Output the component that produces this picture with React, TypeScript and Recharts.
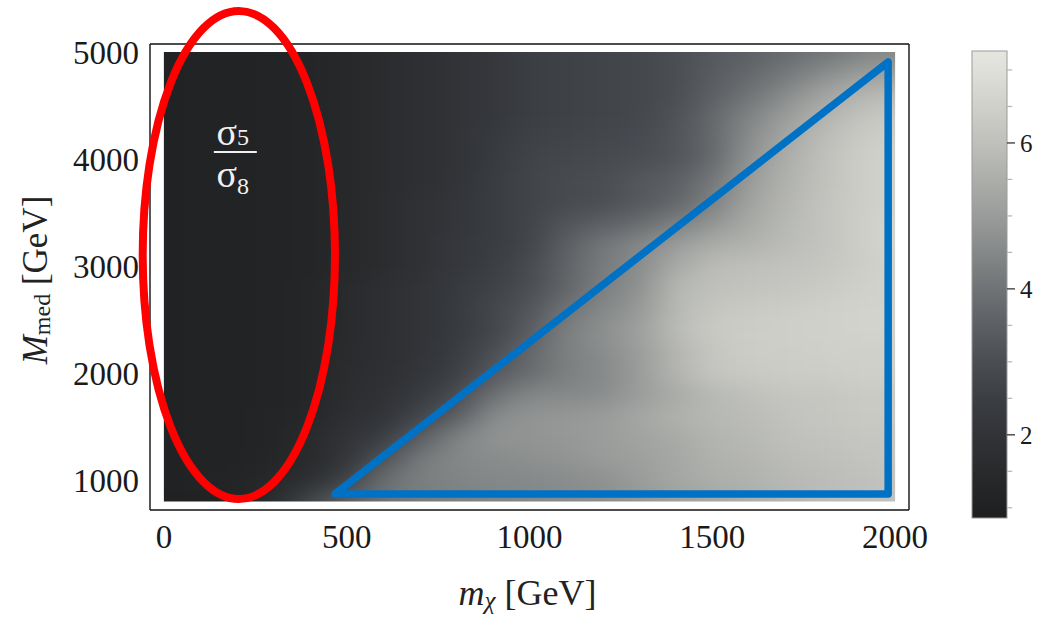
import React from 'react';
import { ComposedChart, XAxis, YAxis, ReferenceArea, ReferenceDot, ReferenceLine, Label } from 'recharts';

// ---------- data ----------
const mChiGeV = [0, 100, 200, 300, 400, 500, 600, 700, 800, 900, 1000, 1100, 1200, 1300, 1400, 1500, 1600, 1700, 1800, 1900, 2000];
const mMedGeV = [5000, 4800, 4600, 4400, 4200, 4000, 3800, 3600, 3400, 3200, 3000, 2800, 2600, 2400, 2200, 2000, 1800, 1600, 1400, 1200, 1000, 800];

// sigma5 / sigma8 ratio, one row per M_med value (top to bottom), one column per m_chi value
const ratioRows = [
  [1.05, 1.1, 1.1, 1.15, 1.2, 1.4, 1.6, 1.8, 2.0, 2.2, 2.5, 2.6, 2.7, 2.8, 3.0, 3.3, 3.5, 3.8, 4.0, 4.3, 4.5],
  [1.05, 1.1, 1.1, 1.15, 1.2, 1.4, 1.6, 1.8, 2.0, 2.2, 2.5, 2.6, 2.7, 2.8, 3.0, 3.4, 3.7, 4.1, 4.6, 5.0, 5.2],
  [1.05, 1.1, 1.1, 1.15, 1.2, 1.4, 1.6, 1.8, 2.0, 2.2, 2.5, 2.6, 2.7, 2.8, 3.0, 3.5, 4.0, 4.6, 5.2, 5.7, 5.9],
  [1.05, 1.1, 1.1, 1.15, 1.2, 1.4, 1.6, 1.8, 2.0, 2.2, 2.5, 2.6, 2.7, 2.8, 3.1, 3.7, 4.4, 5.0, 5.6, 6.1, 6.3],
  [1.05, 1.1, 1.1, 1.15, 1.2, 1.4, 1.6, 1.8, 2.0, 2.3, 2.6, 2.7, 2.8, 2.9, 3.2, 3.7, 4.6, 5.3, 5.9, 6.3, 6.5],
  [1.05, 1.1, 1.1, 1.15, 1.2, 1.4, 1.6, 1.8, 2.0, 2.3, 2.7, 2.8, 2.9, 3.0, 3.2, 3.7, 4.8, 5.5, 6.0, 6.4, 6.6],
  [1.05, 1.1, 1.1, 1.15, 1.2, 1.4, 1.6, 1.8, 2.0, 2.4, 2.7, 2.9, 3.0, 3.3, 3.5, 4.1, 5.0, 5.6, 6.0, 6.4, 6.6],
  [1.05, 1.1, 1.1, 1.15, 1.2, 1.4, 1.6, 1.9, 2.1, 2.4, 2.7, 2.9, 3.0, 3.3, 3.6, 4.3, 5.2, 5.7, 6.1, 6.4, 6.6],
  [1.05, 1.1, 1.1, 1.15, 1.2, 1.4, 1.6, 1.9, 2.1, 2.4, 2.7, 3.2, 3.5, 3.8, 4.3, 4.8, 5.4, 5.8, 6.1, 6.4, 6.7],
  [1.05, 1.1, 1.1, 1.15, 1.2, 1.4, 1.6, 1.9, 2.2, 2.4, 2.7, 3.5, 4.1, 4.5, 5.0, 5.5, 5.6, 5.9, 6.1, 6.4, 6.7],
  [1.05, 1.1, 1.1, 1.15, 1.2, 1.4, 1.6, 1.9, 2.2, 2.5, 2.9, 3.6, 4.2, 4.6, 5.4, 5.9, 6.0, 6.1, 6.2, 6.4, 6.6],
  [1.05, 1.1, 1.1, 1.15, 1.25, 1.5, 1.8, 2.0, 2.3, 2.6, 3.0, 3.6, 4.3, 4.7, 5.8, 6.0, 6.1, 6.2, 6.3, 6.5, 6.6],
  [1.05, 1.1, 1.1, 1.15, 1.25, 1.5, 1.8, 2.0, 2.3, 2.8, 3.2, 4.0, 4.5, 4.9, 5.8, 6.2, 6.3, 6.4, 6.5, 6.6, 6.6],
  [1.05, 1.1, 1.1, 1.15, 1.25, 1.5, 1.8, 2.0, 2.3, 2.7, 3.4, 4.3, 4.7, 5.1, 5.9, 6.3, 6.4, 6.5, 6.5, 6.6, 6.6],
  [1.05, 1.1, 1.1, 1.15, 1.25, 1.55, 1.8, 2.0, 2.4, 3.0, 3.7, 4.3, 4.6, 5.0, 5.7, 6.2, 6.4, 6.4, 6.5, 6.5, 6.5],
  [1.05, 1.1, 1.1, 1.15, 1.3, 1.6, 1.8, 2.1, 2.5, 3.3, 3.8, 4.3, 4.5, 5.0, 5.7, 6.2, 6.3, 6.4, 6.4, 6.5, 6.5],
  [1.05, 1.1, 1.1, 1.15, 1.3, 1.65, 1.9, 2.3, 2.9, 3.9, 4.5, 4.5, 4.6, 5.0, 5.4, 5.8, 6.0, 6.2, 6.2, 6.3, 6.3],
  [1.05, 1.1, 1.1, 1.2, 1.35, 1.8, 2.0, 2.7, 3.4, 4.6, 4.8, 4.9, 5.0, 5.3, 5.6, 5.8, 5.9, 6.1, 6.2, 6.3, 6.3],
  [1.05, 1.1, 1.1, 1.2, 1.5, 2.0, 2.4, 3.4, 4.4, 4.8, 4.8, 4.9, 5.0, 5.2, 5.4, 5.7, 5.8, 6.0, 6.1, 6.2, 6.2],
  [1.05, 1.1, 1.1, 1.3, 1.5, 2.1, 3.1, 4.2, 4.5, 4.6, 4.7, 4.8, 5.0, 5.1, 5.3, 5.6, 5.7, 5.9, 6.0, 6.1, 6.2],
  [1.05, 1.1, 1.2, 1.4, 1.7, 2.6, 3.9, 4.3, 4.4, 4.5, 4.5, 4.6, 4.7, 5.0, 5.3, 5.5, 5.6, 5.8, 5.9, 6.0, 6.1],
  [1.0, 1.05, 1.1, 1.6, 2.8, 3.6, 4.0, 4.2, 4.3, 4.4, 4.5, 4.6, 4.7, 4.9, 5.1, 5.3, 5.5, 5.7, 5.9, 6.0, 6.1],
];

const xTickLabels = [0, 500, 1000, 1500, 2000];
const xMinorTicks = [0, 100, 200, 300, 400, 500, 600, 700, 800, 900, 1000, 1100, 1200, 1300, 1400, 1500, 1600, 1700, 1800, 1900, 2000];
const yTickLabels = [1000, 2000, 3000, 4000, 5000];
const yMinorTicks = [800, 1000, 1200, 1400, 1600, 1800, 2000, 2200, 2400, 2600, 2800, 3000, 3200, 3400, 3600, 3800, 4000, 4200, 4400, 4600, 4800, 5000];

const colorbarMajorTicks = [2, 4, 6];
const colorbarMinorTicks = [1, 1.5, 2.5, 3, 3.5, 4.5, 5, 5.5, 6.5, 7];
const colorbarDomain = [0.86, 7.26];

// gray-tones colour map (value -> colour)
const colorLevels = [0.86, 1, 1.5, 2, 2.5, 3, 3.5, 4, 4.5, 5, 5.5, 6, 6.5, 7, 7.26];
const colorHexes = ['#1d1e1f', '#202122', '#282a2c', '#313337', '#3b3e43', '#4a4e53', '#5c6064', '#6f7375', '#858888', '#999c9a', '#acaeaa', '#bfc0bb', '#cfd0ca', '#dfe0da', '#e6e6e1'];

// annotations (data coordinates)
const ellipseBox = { x1: -58, x2: 468, y1: 823, y2: 5383 };
const triangleBox = { x1: 468, x2: 1981, y1: 869, y2: 4907 };
const ratioLabelAt = { x: 194, y: 4065 };

const xDomain = [-38, 2038];
const yDomain = [720, 5075];

// ---------- helpers ----------
const FONT = '"Liberation Serif", "Times New Roman", serif';

function hexToRgb(h: string) {
  const n = parseInt(h.slice(1), 16);
  return [(n >> 16) & 255, (n >> 8) & 255, n & 255];
}

function colorFor(v: number) {
  const lv = colorLevels;
  if (v <= lv[0]) return colorHexes[0];
  if (v >= lv[lv.length - 1]) return colorHexes[colorHexes.length - 1];
  let i = 0;
  while (i < lv.length - 2 && v > lv[i + 1]) i++;
  const t = (v - lv[i]) / (lv[i + 1] - lv[i]);
  const a = hexToRgb(colorHexes[i]);
  const b = hexToRgb(colorHexes[i + 1]);
  const c = a.map((av, k) => Math.round(av + (b[k] - av) * t));
  return `rgb(${c[0]},${c[1]},${c[2]})`;
}

const HeatmapShape = (props: any) => {
  const { x, y, width, height } = props;
  const nx = mChiGeV.length;
  const ny = mMedGeV.length;
  const x0 = mChiGeV[0];
  const x1 = mChiGeV[nx - 1];
  const yTop = mMedGeV[0];
  const yBot = mMedGeV[ny - 1];
  const px = (i: number) => x + ((mChiGeV[i] - x0) / (x1 - x0)) * width;
  const py = (j: number) => y + ((yTop - mMedGeV[j]) / (yTop - yBot)) * height;
  const pad = 60;
  const rects: any[] = [];
  for (let j = 0; j < ny; j++) {
    const top = j === 0 ? y - pad : (py(j - 1) + py(j)) / 2;
    const bottom = j === ny - 1 ? y + height + pad : (py(j) + py(j + 1)) / 2;
    for (let i = 0; i < nx; i++) {
      const left = i === 0 ? x - pad : (px(i - 1) + px(i)) / 2;
      const right = i === nx - 1 ? x + width + pad : (px(i) + px(i + 1)) / 2;
      rects.push(
        <rect
          key={`${i}-${j}`}
          x={left}
          y={top}
          width={right - left + 0.6}
          height={bottom - top + 0.6}
          fill={colorFor(ratioRows[j][i])}
        />
      );
    }
  }
  return (
    <g>
      <defs>
        <clipPath id="heatClip">
          <rect x={x} y={y} width={width} height={height} />
        </clipPath>
        <filter id="heatBlur" x="-5%" y="-5%" width="110%" height="110%" colorInterpolationFilters="sRGB">
          <feGaussianBlur stdDeviation="17 10" />
        </filter>
      </defs>
      <g clipPath="url(#heatClip)">
        <g filter="url(#heatBlur)">{rects}</g>
      </g>
    </g>
  );
};

const TriangleShape = (props: any) => {
  const { x, y, width, height } = props;
  return (
    <polygon
      points={`${x},${y + height} ${x + width},${y} ${x + width},${y + height}`}
      fill="none"
      stroke="#0072c6"
      strokeWidth={7.5}
      strokeLinejoin="round"
    />
  );
};

const EllipseShape = (props: any) => {
  const { x, y, width, height } = props;
  return (
    <ellipse
      cx={x + width / 2}
      cy={y + height / 2}
      rx={width / 2}
      ry={height / 2}
      fill="none"
      stroke="#ff0000"
      strokeWidth={8}
    />
  );
};

const RatioLabel = (props: any) => {
  const { cx, cy } = props;
  const c = '#f0f0f0';
  return (
    <g fontFamily={FONT} fill={c}>
      <text x={cx - 2} y={cy - 7} textAnchor="middle" fontSize={38}>
        σ<tspan fontSize={24}>5</tspan>
      </text>
      <line x1={cx - 21} x2={cx + 22} y1={cy} y2={cy} stroke={c} strokeWidth={2} />
      <text x={cx - 2} y={cy + 35} textAnchor="middle" fontSize={38}>
        σ<tspan fontSize={24} dy={7}>8</tspan>
      </text>
    </g>
  );
};

const XAxisTitle = (props: any) => {
  const vb = props.viewBox || { x: 150, y: 510, width: 759, height: 110 };
  return (
    <text x={vb.x + vb.width / 2 - 2} y={vb.y + 95} textAnchor="middle" fontFamily={FONT} fontSize={36} fill="#222">
      <tspan fontStyle="italic">m</tspan>
      <tspan fontStyle="italic" fontSize={25} dy={4}>χ</tspan>
      <tspan dy={-4}> [GeV]</tspan>
    </text>
  );
};

const YAxisTitle = (props: any) => {
  const vb = props.viewBox || { x: 0, y: 44, width: 150, height: 466 };
  const tx = vb.x + 47;
  const ty = vb.y + vb.height / 2 + 3;
  return (
    <text x={tx} y={ty} transform={`rotate(-90 ${tx} ${ty})`} textAnchor="middle" fontFamily={FONT} fontSize={35} fill="#222">
      <tspan fontStyle="italic">M</tspan>
      <tspan fontSize={24} dy={3}>med</tspan>
      <tspan dy={-3}> [GeV]</tspan>
    </text>
  );
};

const ColorbarShape = (props: any) => {
  const { x, y, width, height } = props;
  const [lo, hi] = colorbarDomain;
  return (
    <g>
      <defs>
        <linearGradient id="cbGrad" x1="0" y1="1" x2="0" y2="0">
          {colorLevels.map((lv, i) => (
            <stop key={i} offset={`${((lv - lo) / (hi - lo)) * 100}%`} stopColor={colorHexes[i]} />
          ))}
        </linearGradient>
      </defs>
      <rect x={x} y={y} width={width} height={height} fill="url(#cbGrad)" stroke="#9a9a9a" strokeWidth={1} />
    </g>
  );
};

const tickFont = { fontFamily: FONT, fontSize: 33, fill: '#1a1a1a' };
const frameStroke = { stroke: '#111', strokeWidth: 1.4 };
const tickStroke = { stroke: '#111', strokeWidth: 1.3 };
const MAJ = 10;
const MIN = 6;

export default function App() {
  return (
    <div style={{ position: 'absolute', left: 0, top: 0, width: 1049, height: 620, background: '#fff' }}>
      <div style={{ position: 'absolute', left: 0, top: 0 }}>
        <ComposedChart width={1049} height={620} margin={{ top: 44, right: 140, bottom: 0, left: 0 }}>
          <XAxis
            type="number"
            dataKey="x"
            domain={xDomain}
            allowDataOverflow
            ticks={xTickLabels}
            tickLine={false}
            tickSize={0}
            tickMargin={15}
            axisLine={frameStroke}
            tick={tickFont}
            height={110}
            interval={0}
          >
            <Label content={<XAxisTitle />} />
          </XAxis>
          <XAxis xAxisId="bMaj" type="number" domain={xDomain} allowDataOverflow ticks={xTickLabels} mirror tick={false} tickSize={MAJ} axisLine={false} tickLine={tickStroke} interval={0} />
          <XAxis xAxisId="bMin" type="number" domain={xDomain} allowDataOverflow ticks={xMinorTicks} mirror tick={false} tickSize={MIN} axisLine={false} tickLine={tickStroke} interval={0} />
          <XAxis xAxisId="tMaj" orientation="top" type="number" domain={xDomain} allowDataOverflow ticks={xTickLabels} mirror tick={false} tickSize={MAJ} axisLine={frameStroke} tickLine={tickStroke} interval={0} />
          <XAxis xAxisId="tMin" orientation="top" type="number" domain={xDomain} allowDataOverflow ticks={xMinorTicks} mirror tick={false} tickSize={MIN} axisLine={false} tickLine={tickStroke} interval={0} />
          <YAxis
            type="number"
            dataKey="y"
            domain={yDomain}
            allowDataOverflow
            ticks={yTickLabels}
            tickLine={false}
            tickSize={0}
            tickMargin={11}
            axisLine={frameStroke}
            tick={tickFont}
            width={150}
            interval={0}
          >
            <Label content={<YAxisTitle />} />
          </YAxis>
          <YAxis yAxisId="lMaj" type="number" domain={yDomain} allowDataOverflow ticks={yTickLabels} mirror tick={false} tickSize={MAJ} axisLine={false} tickLine={tickStroke} interval={0} />
          <YAxis yAxisId="lMin" type="number" domain={yDomain} allowDataOverflow ticks={yMinorTicks} mirror tick={false} tickSize={MIN} axisLine={false} tickLine={tickStroke} interval={0} />
          <YAxis yAxisId="rMaj" orientation="right" type="number" domain={yDomain} allowDataOverflow ticks={yTickLabels} mirror tick={false} tickSize={MAJ} axisLine={frameStroke} tickLine={tickStroke} interval={0} />
          <YAxis yAxisId="rMin" orientation="right" type="number" domain={yDomain} allowDataOverflow ticks={yMinorTicks} mirror tick={false} tickSize={MIN} axisLine={false} tickLine={tickStroke} interval={0} />

          <ReferenceArea
            x1={mChiGeV[0]}
            x2={mChiGeV[mChiGeV.length - 1]}
            y1={mMedGeV[mMedGeV.length - 1]}
            y2={mMedGeV[0]}
            shape={HeatmapShape}
            ifOverflow="visible"
          />
          <ReferenceArea
            x1={triangleBox.x1}
            x2={triangleBox.x2}
            y1={triangleBox.y1}
            y2={triangleBox.y2}
            shape={TriangleShape}
            ifOverflow="visible"
          />
          <ReferenceDot x={ratioLabelAt.x} y={ratioLabelAt.y} shape={RatioLabel} ifOverflow="visible" />
          <ReferenceArea
            x1={ellipseBox.x1}
            x2={ellipseBox.x2}
            y1={ellipseBox.y1}
            y2={ellipseBox.y2}
            shape={EllipseShape}
            ifOverflow="visible"
            zIndex={2500}
          />
        </ComposedChart>
      </div>
      <div style={{ position: 'absolute', left: 940, top: 0 }}>
        <ComposedChart width={109} height={620} margin={{ top: 51, right: 0, bottom: 102, left: 32 }}>
          <XAxis
            type="number"
            dataKey="x"
            domain={[0, 1]}
            allowDataOverflow
            height={0}
            tick={false}
            tickLine={false}
            axisLine={false}
          />
          <YAxis
            orientation="right"
            type="number"
            dataKey="y"
            domain={colorbarDomain}
            allowDataOverflow
            ticks={colorbarMajorTicks}
            tickSize={8}
            tickMargin={5}
            axisLine={false}
            tickLine={{ stroke: '#333', strokeWidth: 1.3 }}
            tick={{ fontFamily: FONT, fontSize: 25, fill: '#1a1a1a' }}
            width={42}
            interval={0}
          />
          <ReferenceArea x1={0} x2={1} y1={colorbarDomain[0]} y2={colorbarDomain[1]} shape={ColorbarShape} ifOverflow="visible" />
          {colorbarMinorTicks.map((v) => (
            <ReferenceLine
              key={v}
              segment={[{ x: 1, y: v }, { x: 1.15, y: v }]}
              stroke="#b5b5b5"
              strokeWidth={1.2}
              ifOverflow="visible"
            />
          ))}
        </ComposedChart>
      </div>
    </div>
  );
}
